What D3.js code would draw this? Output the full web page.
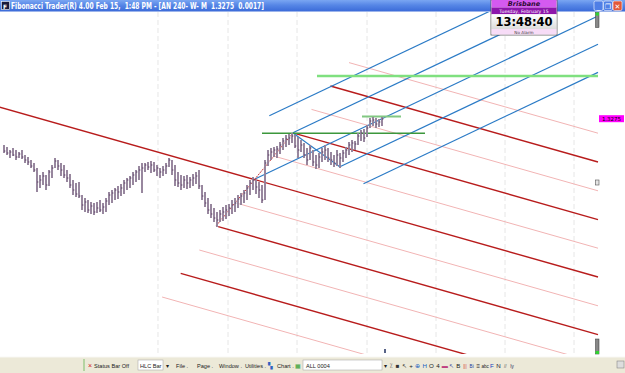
<!DOCTYPE html>
<html><head><meta charset="utf-8">
<script src="https://cdn.jsdelivr.net/npm/d3@7"></script>
<style>body{margin:0;overflow:hidden;background:#fff}svg{display:block}</style>
</head><body>
<svg id="c" width="625" height="373"></svg>
<script>
// ---------- DATA ----------
const barHigh = [1.3145,1.3135,1.3120,1.3130,1.3120,1.3110,1.3120,1.3095,1.3085,1.3070,
1.3055,1.3030,1.2995,1.3010,1.2995,1.3020,1.3045,1.3080,1.3070,1.3055,
1.3045,1.3020,1.3000,1.2970,1.2955,1.2960,1.2895,1.2880,1.2870,1.2860,
1.2855,1.2860,1.2870,1.2855,1.2880,1.2910,1.2920,1.2930,1.2940,1.2950,
1.2970,1.2980,1.2990,1.3010,1.3020,1.3040,1.3055,1.3055,1.3060,1.3065,
1.3060,1.3045,1.3030,1.3040,1.3055,1.3080,1.3070,1.3045,1.3010,1.2995,
1.2990,1.2995,1.2985,1.3000,1.3010,1.3020,1.2945,1.2910,1.2880,1.2850,
1.2830,1.2810,1.2820,1.2835,1.2845,1.2850,1.2870,1.2880,1.2895,1.2905,
1.2920,1.2945,1.2970,1.2985,1.2970,1.2960,1.2945,1.3070,1.3120,1.3130,
1.3135,1.3140,1.3160,1.3180,1.3195,1.3200,1.3205,1.3195,1.3185,1.3170,
1.3155,1.3130,1.3145,1.3120,1.3095,1.3105,1.3130,1.3145,1.3130,1.3110,
1.3095,1.3120,1.3105,1.3120,1.3135,1.3160,1.3170,1.3165,1.3205,1.3220,
1.3225,1.3245,1.3280,1.3285,1.3280,1.3275,1.3285];
const barLow = [1.3105,1.3095,1.3080,1.3090,1.3070,1.3080,1.3075,1.3055,1.3045,1.3030,
1.3010,1.2910,1.2930,1.2945,1.2920,1.2940,1.2980,1.3030,1.3020,1.2990,
1.2980,1.2960,1.2930,1.2895,1.2885,1.2880,1.2820,1.2810,1.2805,1.2800,
1.2795,1.2805,1.2810,1.2800,1.2810,1.2845,1.2855,1.2870,1.2875,1.2890,
1.2900,1.2920,1.2930,1.2945,1.2960,1.2970,1.2905,1.3010,1.3020,1.3005,
1.3010,1.2990,1.2980,1.2990,1.3000,1.3035,1.2995,1.2940,1.2935,1.2920,
1.2930,1.2925,1.2930,1.2940,1.2950,1.2925,1.2870,1.2835,1.2800,1.2780,
1.2760,1.2735,1.2760,1.2765,1.2775,1.2790,1.2800,1.2810,1.2830,1.2845,
1.2855,1.2870,1.2895,1.2920,1.2900,1.2880,1.2855,1.2870,1.3040,1.3070,
1.3085,1.3080,1.3100,1.3120,1.3135,1.3145,1.3155,1.3130,1.3080,1.3110,
1.3080,1.3045,1.3070,1.3040,1.3025,1.3030,1.3060,1.3070,1.3060,1.3045,
1.3035,1.3040,1.3030,1.3060,1.3080,1.3095,1.3110,1.3120,1.3145,1.3165,
1.3160,1.3185,1.3230,1.3240,1.3230,1.3235,1.3240];
const barClose = [1.3115,1.3105,1.3110,1.3095,1.3085,1.3100,1.3085,1.3070,1.3060,1.3040,
1.3020,1.2960,1.2970,1.2990,1.2945,1.3010,1.3030,1.3065,1.3040,1.3020,
1.2995,1.2980,1.2945,1.2920,1.2900,1.2890,1.2845,1.2860,1.2820,1.2840,
1.2810,1.2830,1.2820,1.2835,1.2865,1.2895,1.2905,1.2920,1.2910,1.2930,
1.2955,1.2970,1.2980,1.2995,1.3010,1.3020,1.3030,1.3045,1.3035,1.3045,
1.3020,1.3030,1.3010,1.3020,1.3040,1.3070,1.3020,1.2970,1.2955,1.2945,
1.2970,1.2955,1.2970,1.2980,1.2990,1.2940,1.2890,1.2855,1.2820,1.2800,
1.2780,1.2770,1.2800,1.2810,1.2820,1.2830,1.2845,1.2855,1.2875,1.2890,
1.2905,1.2930,1.2955,1.2970,1.2935,1.2920,1.2870,1.3055,1.3095,1.3110,
1.3120,1.3125,1.3145,1.3165,1.3175,1.3180,1.3190,1.3140,1.3120,1.3145,
1.3095,1.3070,1.3130,1.3060,1.3045,1.3085,1.3110,1.3120,1.3080,1.3070,
1.3055,1.3095,1.3080,1.3105,1.3120,1.3145,1.3155,1.3150,1.3190,1.3205,
1.3180,1.3230,1.3265,1.3270,1.3250,1.3260,1.3275];

// session separators (bar index)
const sessionBreaks = [51.33, 74.67, 97.67, 121, 144, 167, 190];

// pitchfork lines: [startBar, startPrice, endBar, endPrice]
const forkRed  = [[108.8,1.3440,198,1.3060],[96.3,1.3206,198,1.2772],[-1.4,1.3334,198,1.2485],
                  [71.4,1.2737,198,1.2197],[58.9,1.2503,198,1.1910]];
const forkPink = [[115,1.3557,198,1.3204],[102.5,1.3323,198,1.2916],[90.1,1.3089,198,1.2629],
                  [77.6,1.2854,198,1.2341],[65.1,1.2620,198,1.2054],[52.7,1.2385,198,1.1766]];
const forkBlue = [[88.43,1.3291,198,1.4071],[96.3,1.3206,198,1.3930],[83.67,1.2975,198,1.3790],
                  [111.97,1.3036,198,1.3649],[119.83,1.2951,198,1.3508]];
const handleBlue = [[96.33,1.3205,112,1.3035]];
const handleRed  = [[70.67,1.2740,96.33,1.3205]];
// horizontal levels: [startBar, endBar, price]
const levelWide  = [[104.33,198,1.3490]];
const levelDark  = [[86,140.33,1.32035]];
const levelShort = [[119.33,132.33,1.32875]];

const lastPrice = 1.3275;
const lastBar = 127;
const titleText = "Fibonacci Trader(R) 4.00 Feb 15,  1:48 PM - [AN 240- W- M  1.3275  0.0017]";
const clockCity = "Brisbane", clockDate = "Tuesday, February 15", clockTime = "13:48:40", clockAlarm = "No Alarm";
const menuItems = ["File .", "Page .", "Window .", "Utilities ."];

// ---------- SCALES ----------
const svg = d3.select('#c');
const x = d3.scaleLinear().domain([0, 198]).range([4, 598]);
const y = d3.scaleLinear().domain([1.20, 1.38]).range([374, 14]);

const defs = svg.append('defs');
defs.append('clipPath').attr('id','plot').append('rect')
  .attr('x',0).attr('y',12).attr('width',599).attr('height',342);
const tg = defs.append('linearGradient').attr('id','tbar').attr('x1',0).attr('y1',0).attr('x2',0).attr('y2',1);
tg.append('stop').attr('offset','0%').attr('stop-color','#7aa6f2');
tg.append('stop').attr('offset','45%').attr('stop-color','#5686e6');
tg.append('stop').attr('offset','100%').attr('stop-color','#3a6ad8');
const cg = defs.append('linearGradient').attr('id','clk').attr('x1',0).attr('y1',0).attr('x2',0).attr('y2',1);
cg.append('stop').attr('offset','0%').attr('stop-color','#ffffff');
cg.append('stop').attr('offset','100%').attr('stop-color','#dcdcdc');

svg.append('rect').attr('width',625).attr('height',373).attr('fill','#fff');

const plot = svg.append('g').attr('clip-path','url(#plot)');

// grid
plot.selectAll('line.grid').data(sessionBreaks).join('line')
  .attr('x1',d=>x(d)).attr('x2',d=>x(d)).attr('y1',12).attr('y2',354)
  .attr('stroke','#e6e6e6').attr('stroke-width',1).attr('stroke-dasharray','5,3');

function segs(data, color, w, dash){
  plot.append('g').selectAll('line').data(data).join('line')
    .attr('x1',d=>x(d[0])).attr('y1',d=>y(d[1])).attr('x2',d=>x(d[2])).attr('y2',d=>y(d[3]))
    .attr('stroke',color).attr('stroke-width',w).attr('stroke-dasharray',dash||null);
}
function levels(data, color, w){
  plot.append('g').selectAll('line').data(data).join('line')
    .attr('x1',d=>x(d[0])).attr('x2',d=>x(d[1])).attr('y1',d=>y(d[2])).attr('y2',d=>y(d[2]))
    .attr('stroke',color).attr('stroke-width',w);
}
segs(forkPink,'#f2b4b4',1);
segs(forkRed,'#b81c1c',1.4);
segs(forkBlue,'#2b7bc6',1.2);
segs(handleBlue,'#2b7bc6',1.1);
segs(handleRed,'#c83030',1,'2,1');
levels(levelWide,'#7fe07f',2.6);
levels(levelDark,'#3c973c',1.5);
levels(levelShort,'#82c882',2);

// bars
const idx = d3.range(barHigh.length);
const bars = plot.append('g');
bars.selectAll('line.halo').data(idx).join('line')
  .attr('x1',i=>x(i)).attr('x2',i=>x(i)).attr('y1',i=>y(barHigh[i])).attr('y2',i=>y(barLow[i]))
  .attr('stroke','#e2d6ea').attr('stroke-width',1.8);
bars.selectAll('line.hl').data(idx).join('line')
  .attr('x1',i=>x(i)).attr('x2',i=>x(i)).attr('y1',i=>y(barHigh[i])).attr('y2',i=>y(barLow[i]))
  .attr('stroke','#3a2342').attr('stroke-width',0.9);
bars.selectAll('line.cl').data(idx).join('line')
  .attr('x1',i=>x(i)).attr('x2',i=>x(i)+1.4).attr('y1',i=>y(barClose[i])).attr('y2',i=>y(barClose[i]))
  .attr('stroke','#5a3d62').attr('stroke-width',0.9);

// current bar marker at bottom
svg.append('line').attr('x1',x(lastBar)).attr('x2',x(lastBar)).attr('y1',349).attr('y2',353)
  .attr('stroke','#203060').attr('stroke-width',1.5);

// right price axis markers
svg.append('rect').attr('x',599).attr('y',y(lastPrice)-3.8).attr('width',25).attr('height',7).attr('fill','#ff00ff');
svg.append('text').attr('x',611.5).attr('y',y(lastPrice)+2).attr('text-anchor','middle')
  .attr('font-family','DejaVu Sans').attr('font-size',5.5).attr('fill','#000').text(lastPrice.toFixed(4));
svg.append('rect').attr('x',595.5).attr('y',180).attr('width',3.5).attr('height',5).attr('fill','#e4e4e4').attr('stroke','#555').attr('stroke-width',0.6);
// small sliders
svg.append('rect').attr('x',595.5).attr('y',12.5).attr('width',3.5).attr('height',15).attr('fill','#888').attr('stroke','#333').attr('stroke-width',0.5);
svg.append('rect').attr('x',595.5).attr('y',12.5).attr('width',3.5).attr('height',3).attr('fill','#32d232');
svg.append('rect').attr('x',595.5).attr('y',339).attr('width',3.5).attr('height',15).attr('fill','#888').attr('stroke','#333').attr('stroke-width',0.5);
svg.append('rect').attr('x',595.5).attr('y',351).attr('width',3.5).attr('height',3).attr('fill','#32d232');

// title bar
svg.append('rect').attr('x',0).attr('y',0).attr('width',625).attr('height',11.5).attr('fill','url(#tbar)');
svg.append('rect').attr('x',1.5).attr('y',1.5).attr('width',8).attr('height',8).attr('fill','#1a1a3a').attr('stroke','#fff').attr('stroke-width',0.6);
svg.append('text').attr('x',3).attr('y',8.5).attr('font-family','DejaVu Sans').attr('font-weight','bold')
  .attr('font-size',6).attr('fill','#fff').text('F');
svg.append('text').attr('x',11).attr('y',9).attr('font-family','DejaVu Sans').attr('font-size',8.2)
  .attr('font-weight','bold').attr('fill','#fff').attr('textLength',253).attr('lengthAdjust','spacingAndGlyphs')
  .attr('xml:space','preserve').style('white-space','pre').text(titleText);
// window buttons
[[594,'#4f7fe6','_'],[603.5,'#4f7fe6','❐'],[613,'#e2583a','✕']].forEach(b=>{
  svg.append('rect').attr('x',b[0]).attr('y',1).attr('width',9).attr('height',9.5).attr('rx',1.5)
    .attr('fill',b[1]).attr('stroke','#fff').attr('stroke-width',0.6);
  svg.append('text').attr('x',b[0]+4.5).attr('y',8.5).attr('text-anchor','middle').attr('font-family','DejaVu Sans')
    .attr('font-size',7).attr('font-weight','bold').attr('fill','#fff').text(b[2]);
});

// clock widget
const ck = svg.append('g');
ck.append('rect').attr('x',491).attr('y',0).attr('width',66).attr('height',35).attr('fill','#fff').attr('stroke','#555').attr('stroke-width',0.8);
ck.append('rect').attr('x',491.5).attr('y',0).attr('width',65).attr('height',7.5).attr('fill','#d45af0');
ck.append('rect').attr('x',491.5).attr('y',7.5).attr('width',65).attr('height',6.8).attr('fill','#8d16ab');
ck.append('rect').attr('x',491.5).attr('y',14.3).attr('width',65).attr('height',14.7).attr('fill','url(#clk)');
ck.append('rect').attr('x',491.5).attr('y',29).attr('width',65).attr('height',5.5).attr('fill','#f7dcf7');
ck.append('text').attr('x',524).attr('y',6.4).attr('text-anchor','middle').attr('font-family','DejaVu Sans')
  .attr('font-size',6.5).attr('font-weight','bold').attr('font-style','italic').attr('fill','#2a0a30').text(clockCity);
ck.append('text').attr('x',524).attr('y',12.6).attr('text-anchor','middle').attr('font-family','DejaVu Sans')
  .attr('font-size',4.6).attr('fill','#fff').text(clockDate);
ck.append('text').attr('x',524).attr('y',26.3).attr('text-anchor','middle').attr('font-family','DejaVu Sans')
  .attr('font-size',11.5).attr('font-weight','bold').attr('fill','#000').text(clockTime);
ck.append('text').attr('x',524).attr('y',33.6).attr('text-anchor','middle').attr('font-family','DejaVu Sans')
  .attr('font-size',4.2).attr('fill','#444').text(clockAlarm);

// bottom toolbar
const tb = svg.append('g');
tb.append('rect').attr('x',0).attr('y',357).attr('width',625).attr('height',16).attr('fill','#ece9d8');
tb.append('line').attr('x1',0).attr('x2',625).attr('y1',357).attr('y2',357).attr('stroke','#f8f8f4');
tb.append('line').attr('x1',84).attr('x2',84).attr('y1',359).attr('y2',371).attr('stroke','#7cbf6a').attr('stroke-width',1);
const tf = {'font-family':'Liberation Sans','font-size':5.6,'fill':'#222'};
function ttext(xp, s, opts){ const t=tb.append('text').attr('x',xp).attr('y',367.5); Object.entries(Object.assign({},tf,opts||{})).forEach(([k,v])=>t.attr(k,v)); t.text(s); return t;}
ttext(88,'×',{fill:'#d02020','font-size':7});
ttext(94,'Status Bar Off');
tb.append('rect').attr('x',138).attr('y',360).attr('width',25).attr('height',10).attr('fill','#fff').attr('stroke','#a0a0a0').attr('stroke-width',0.5);
ttext(140,'HLC Bar');
ttext(166,'▾',{'font-size':6});
menuItems.forEach((m,k)=>ttext([176,197,219,245][k], m));
ttext(268,'▚',{fill:'#3060c0','font-size':6});
ttext(277,'Chart .');
ttext(295,'▦',{fill:'#30a030','font-size':6});
tb.append('rect').attr('x',303).attr('y',360).attr('width',79).attr('height',10).attr('fill','#fff').attr('stroke','#a0a0a0').attr('stroke-width',0.5);
ttext(306,'ALL 0004');
ttext(384,'▾',{'font-size':6});
const icons = [['⁒','#555'],['■','#333'],['↖','#222'],['+','#222'],['⊕','#2060c0'],['H','#2060c0'],['O','#222'],['4','#222'],
  ['▬','#c04080'],['↖','#3040a0'],['B','#222'],['|||','#d03030'],['Bi','#2040a0'],['≡','#222'],['abc','#222'],['F','#2040c0'],['N','#223'],['//','#555'],['Iy','#225']];
const iconX = d3.scalePoint().domain(d3.range(icons.length)).range([391, 512]);
icons.forEach((ic,k)=>{ ttext(iconX(k), ic[0], {fill:ic[1],'font-size':ic[0].length>1?4.6:6.2,'text-anchor':'middle'}); });
tb.append('rect').attr('x',617).attr('y',361).attr('width',7).attr('height',7).attr('fill','#ddd').attr('stroke','#777').attr('stroke-width',0.5);
</script>
</body></html>
